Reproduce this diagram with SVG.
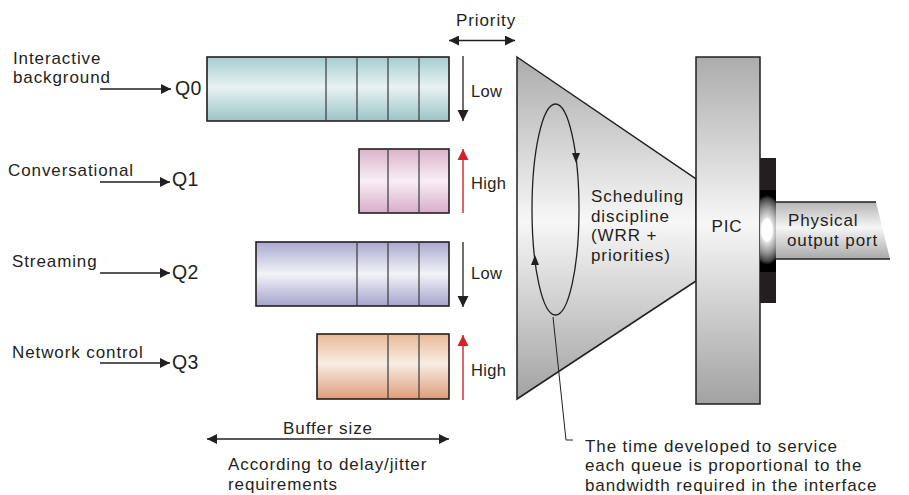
<svg xmlns="http://www.w3.org/2000/svg" width="909" height="495" viewBox="0 0 909 495">
  <style>
    text { font-family: "Liberation Sans", Arial, Helvetica, sans-serif; fill: #231f20; }
    .t { font-size: 17px; letter-spacing: 0.9px; }
    .q { font-size: 19.5px; letter-spacing: 0.3px; }
    .s { font-size: 16.5px; letter-spacing: 0.3px; }
    .box { stroke: #231f20; stroke-width: 1.6; }
    .div { stroke: #3a3a3a; stroke-width: 1.2; fill: none; }
    .ln { stroke: #231f20; stroke-width: 1.3; fill: none; }
    .red { stroke: #d2232a; stroke-width: 1.4; fill: none; }
    .thin { stroke: #231f20; stroke-width: 1; fill: none; }
  </style>
  <defs>
    <marker id="ah" viewBox="0 0 10 10" refX="10" refY="5" markerWidth="10" markerHeight="10" markerUnits="userSpaceOnUse" orient="auto-start-reverse">
      <path d="M0,0 L10,5 L0,10 z" fill="#231f20"/>
    </marker>
    <marker id="ahL" viewBox="0 0 10 10" refX="10" refY="5" markerWidth="11" markerHeight="12" markerUnits="userSpaceOnUse" orient="auto">
      <path d="M0,0 L10,5 L0,10 z" fill="#231f20"/>
    </marker>
    <marker id="ahR" viewBox="0 0 10 10" refX="10" refY="5" markerWidth="11" markerHeight="12" markerUnits="userSpaceOnUse" orient="auto">
      <path d="M0,0 L10,5 L0,10 z" fill="#d2232a"/>
    </marker>
    <linearGradient id="gQ0" x1="0" y1="0" x2="0" y2="1">
      <stop offset="0" stop-color="#a6cdce"/>
      <stop offset="0.47" stop-color="#e8f2f2"/>
      <stop offset="1" stop-color="#9bc4c6"/>
    </linearGradient>
    <linearGradient id="gQ1" x1="0" y1="0" x2="0" y2="1">
      <stop offset="0" stop-color="#dbb3cb"/>
      <stop offset="0.5" stop-color="#f8eff4"/>
      <stop offset="1" stop-color="#d8adc7"/>
    </linearGradient>
    <linearGradient id="gQ2" x1="0" y1="0" x2="0" y2="1">
      <stop offset="0" stop-color="#a9a9d0"/>
      <stop offset="0.5" stop-color="#f3f3f9"/>
      <stop offset="1" stop-color="#a4a4cc"/>
    </linearGradient>
    <linearGradient id="gQ3" x1="0" y1="0" x2="0" y2="1">
      <stop offset="0" stop-color="#e8b996"/>
      <stop offset="0.45" stop-color="#f8ede4"/>
      <stop offset="1" stop-color="#de9d7a"/>
    </linearGradient>
    <linearGradient id="gGrey" x1="0" y1="0" x2="0" y2="1">
      <stop offset="0" stop-color="#acacac"/>
      <stop offset="0.48" stop-color="#f7f7f7"/>
      <stop offset="1" stop-color="#a2a2a2"/>
    </linearGradient>
    <linearGradient id="gPort" x1="0" y1="0" x2="0" y2="1">
      <stop offset="0" stop-color="#b4b4b4"/>
      <stop offset="0.45" stop-color="#f6f6f6"/>
      <stop offset="1" stop-color="#a8a8a8"/>
    </linearGradient>
    <radialGradient id="gRing" gradientUnits="userSpaceOnUse" cx="0" cy="0" r="41" gradientTransform="translate(767 230) scale(0.5 1)">
      <stop offset="0" stop-color="#ffffff"/>
      <stop offset="0.26" stop-color="#ffffff"/>
      <stop offset="0.32" stop-color="#dcdcdc"/>
      <stop offset="0.44" stop-color="#b9b9b9"/>
      <stop offset="0.56" stop-color="#959595"/>
      <stop offset="0.66" stop-color="#6e6e6e"/>
      <stop offset="0.76" stop-color="#464646"/>
      <stop offset="0.85" stop-color="#000000"/>
      <stop offset="1" stop-color="#000000"/>
    </radialGradient>
  </defs>

  <!-- traffic classes -->
  <g id="src-interactive">
    <text class="t" x="13" y="63.5">Interactive</text>
    <text class="t" x="13" y="83">background</text>
  </g>
  <g id="src-conversational"><text class="t" x="8" y="176">Conversational</text></g>
  <g id="src-streaming"><text class="t" x="12" y="267">Streaming</text></g>
  <g id="src-network"><text class="t" x="12" y="358">Network control</text></g>

  <!-- queues -->
  <g id="q0">
    <text class="q" x="175" y="95">Q0</text>
    <rect class="box" x="207" y="57" width="242" height="64" fill="url(#gQ0)"/>
    <path class="div" d="M326,58V120M357,58V120M388,58V120M419,58V120"/>
  </g>
  <g id="q1">
    <text class="q" x="172" y="186">Q1</text>
    <rect class="box" x="359" y="149" width="90" height="64" fill="url(#gQ1)"/>
    <path class="div" d="M388,150V212M419,150V212"/>
  </g>
  <g id="q2">
    <text class="q" x="172" y="279">Q2</text>
    <rect class="box" x="256" y="242" width="193" height="64" fill="url(#gQ2)"/>
    <path class="div" d="M357,243V305M388,243V305M419,243V305"/>
  </g>
  <g id="q3">
    <text class="q" x="172" y="369">Q3</text>
    <rect class="box" x="317" y="334" width="132" height="65" fill="url(#gQ3)"/>
    <path class="div" d="M388,335V398M419,335V398"/>
  </g>

  <!-- priority labels -->
  <g id="priority-labels">
    <text class="t" x="456" y="26">Priority</text>
    <text class="s" x="471" y="97">Low</text>
    <text class="s" x="471" y="189">High</text>
    <text class="s" x="471" y="279">Low</text>
    <text class="s" x="471" y="376">High</text>
  </g>

  <!-- scheduler -->
  <g id="scheduler">
    <polygon points="517,57 696,179 696,281 517,399" fill="url(#gGrey)" stroke="#231f20" stroke-width="1.5"/>
    <ellipse cx="555.5" cy="209.5" rx="23.5" ry="105.5" fill="none" stroke="#231f20" stroke-width="1.3"/>
    <path d="M572,153 L580,153 L576,163 z" fill="#231f20"/>
    <path d="M531,265 L539,265 L535,255 z" fill="#231f20"/>
    <text class="t" x="591" y="202">Scheduling</text>
    <text class="t" x="591" y="221.5">discipline</text>
    <text class="t" x="591" y="241">(WRR +</text>
    <text class="t" x="591" y="260.5">priorities)</text>
  </g>

  <!-- PIC -->
  <g id="pic">
    <rect x="696" y="57" width="64" height="347" fill="url(#gGrey)" stroke="#231f20" stroke-width="1.5"/>
    <text class="t" x="727" y="232" text-anchor="middle">PIC</text>
  </g>

  <!-- physical output port -->
  <g id="port">
    <rect x="760" y="158" width="16" height="145" fill="#231f20"/>
    <rect x="760" y="190" width="16" height="82" fill="url(#gRing)"/>
    <polygon points="776,202 876,202 890,259 776,259" fill="url(#gPort)"/>
    <path d="M776,202H876M776,259H890" stroke="#231f20" stroke-width="1.6" fill="none"/>
    <text class="t" x="788" y="226">Physical</text>
    <text class="t" x="787" y="246">output port</text>
  </g>

  <!-- connectors -->
  <g id="connectors">
    <line class="ln" x1="100" y1="89" x2="171" y2="89" marker-end="url(#ah)"/>
    <line class="ln" x1="100" y1="182" x2="170" y2="182" marker-end="url(#ah)"/>
    <line class="ln" x1="100" y1="273" x2="170" y2="273" marker-end="url(#ah)"/>
    <line class="ln" x1="100" y1="363" x2="170" y2="363" marker-end="url(#ah)"/>

    <line class="ln" x1="449" y1="40.5" x2="515" y2="40.5" marker-start="url(#ah)" marker-end="url(#ah)"/>

    <line class="ln" x1="463" y1="56" x2="463" y2="121" marker-end="url(#ahL)"/>
    <line class="red" x1="463" y1="213" x2="463" y2="149" marker-end="url(#ahR)"/>
    <line class="ln" x1="463" y1="242" x2="463" y2="307" marker-end="url(#ahL)"/>
    <line class="red" x1="463" y1="400" x2="463" y2="335" marker-end="url(#ahR)"/>

    <line class="ln" x1="207" y1="439" x2="449" y2="439" marker-start="url(#ah)" marker-end="url(#ah)"/>

    <polyline class="thin" points="553,317 566,440 573,440"/>
  </g>

  <!-- notes -->
  <g id="notes">
    <text class="t" x="328" y="434" text-anchor="middle">Buffer size</text>
    <text class="t" x="228" y="470">According to delay/jitter</text>
    <text class="t" x="228" y="489.5">requirements</text>
    <text class="t" x="585" y="451.5">The time developed to service</text>
    <text class="t" x="585" y="471">each queue is proportional to the</text>
    <text class="t" x="585" y="490.5">bandwidth required in the interface</text>
  </g>
</svg>
